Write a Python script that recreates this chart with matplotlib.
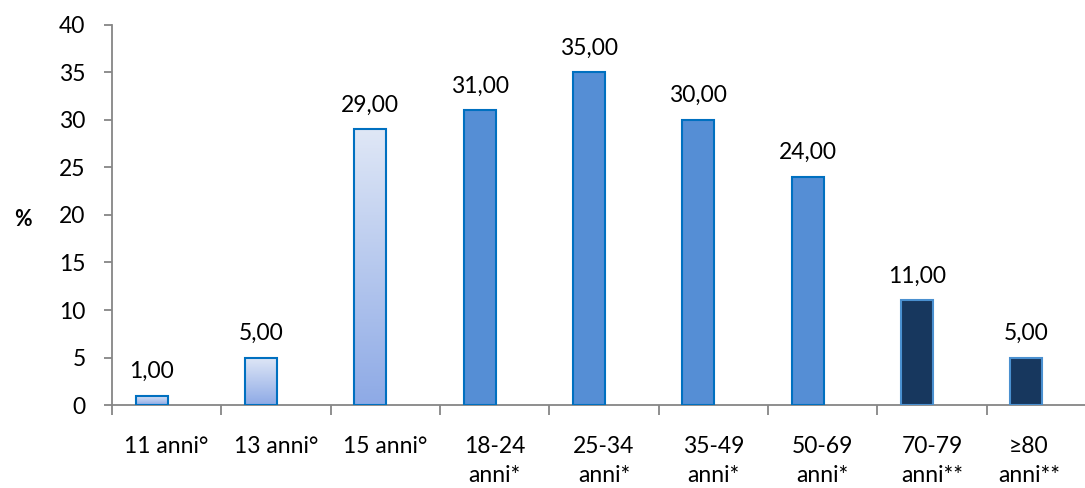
import matplotlib
matplotlib.use("Agg")
import matplotlib.pyplot as plt
import matplotlib.transforms as mtransforms
import numpy as np
from matplotlib.colors import LinearSegmentedColormap

# data
categories = ["11 anni°", "13 anni°", "15 anni°", "18-24\nanni*", "25-34\nanni*",
              "35-49\nanni*", "50-69\nanni*", "70-79\nanni**", "≥80\nanni**"]
values = [1, 5, 29, 31, 35, 30, 24, 11, 5]
groups = ["young", "young", "young", "adult", "adult", "adult", "adult", "old", "old"]

plt.rcParams["font.family"] = ["Lato", "DejaVu Sans"]
FS = 16.5

fig = plt.figure(figsize=(10.85, 4.88), dpi=100)
# the plot area runs past the right edge, as in the source image
ax = fig.add_axes([0.1032, 0.170, 0.9069, 0.779])

x = np.arange(len(values))
shift = 0.137   # bars sit slightly left of the category centre
width = 0.295
fill = {"adult": "#558ed5", "old": "#17375e"}
edge = {"young": "#0070c0", "adult": "#0070c0", "old": "#4a90d0"}
grad = LinearSegmentedColormap.from_list("g", ["#8eaae6", "#dfe7f6"])

bars = ax.bar(x - shift, values, width=width, color=[fill.get(g, "none") for g in groups],
              edgecolor=[edge[g] for g in groups], linewidth=1.5, zorder=3)

# gradient fill for the young groups
for b, g in zip(bars, groups):
    if g != "young":
        continue
    x0, y0 = b.get_x(), b.get_y()
    w, h = b.get_width(), b.get_height()
    img = ax.imshow(np.linspace(0, 1, 100).reshape(-1, 1), cmap=grad, aspect="auto",
                    extent=[x0, x0 + w, y0, y0 + h], origin="lower", zorder=2)
    img.set_clip_path(b)

for xi, v in zip(x, values):
    ax.annotate(f"{v:.2f}".replace(".", ","), (xi - shift, v), xytext=(0, 13),
                textcoords="offset points", ha="center", va="baseline", fontsize=FS)

ax.set_xlim(-0.5, len(values) - 0.5)
ax.set_ylim(0, 40)
ax.set_yticks(range(0, 41, 5))
ax.set_xticks(x)
ax.set_xticklabels(categories, fontsize=FS, linespacing=1.5, va="top")
ax.set_xticks(np.arange(-0.5, len(values)), minor=True)
ax.tick_params(axis="x", which="major", length=0, pad=22)
ax.tick_params(axis="x", which="minor", length=7, color="#868686", width=1.3)
ax.tick_params(axis="y", length=6, color="#868686", width=1.3, labelsize=FS, pad=13)

# last label is pushed inside the visible area
last = ax.get_xticklabels()[-1]
last.set_transform(last.get_transform() + mtransforms.ScaledTranslation(-9 / 72, 0, fig.dpi_scale_trans))

for s in ["top", "right"]:
    ax.spines[s].set_visible(False)
for s in ["left", "bottom"]:
    ax.spines[s].set_color("#868686")
    ax.spines[s].set_linewidth(1.3)

fig.text(0.021, 0.55, "%", fontsize=FS - 1, fontweight="bold", ha="center", va="center")

fig.savefig("out.png", dpi=100)
